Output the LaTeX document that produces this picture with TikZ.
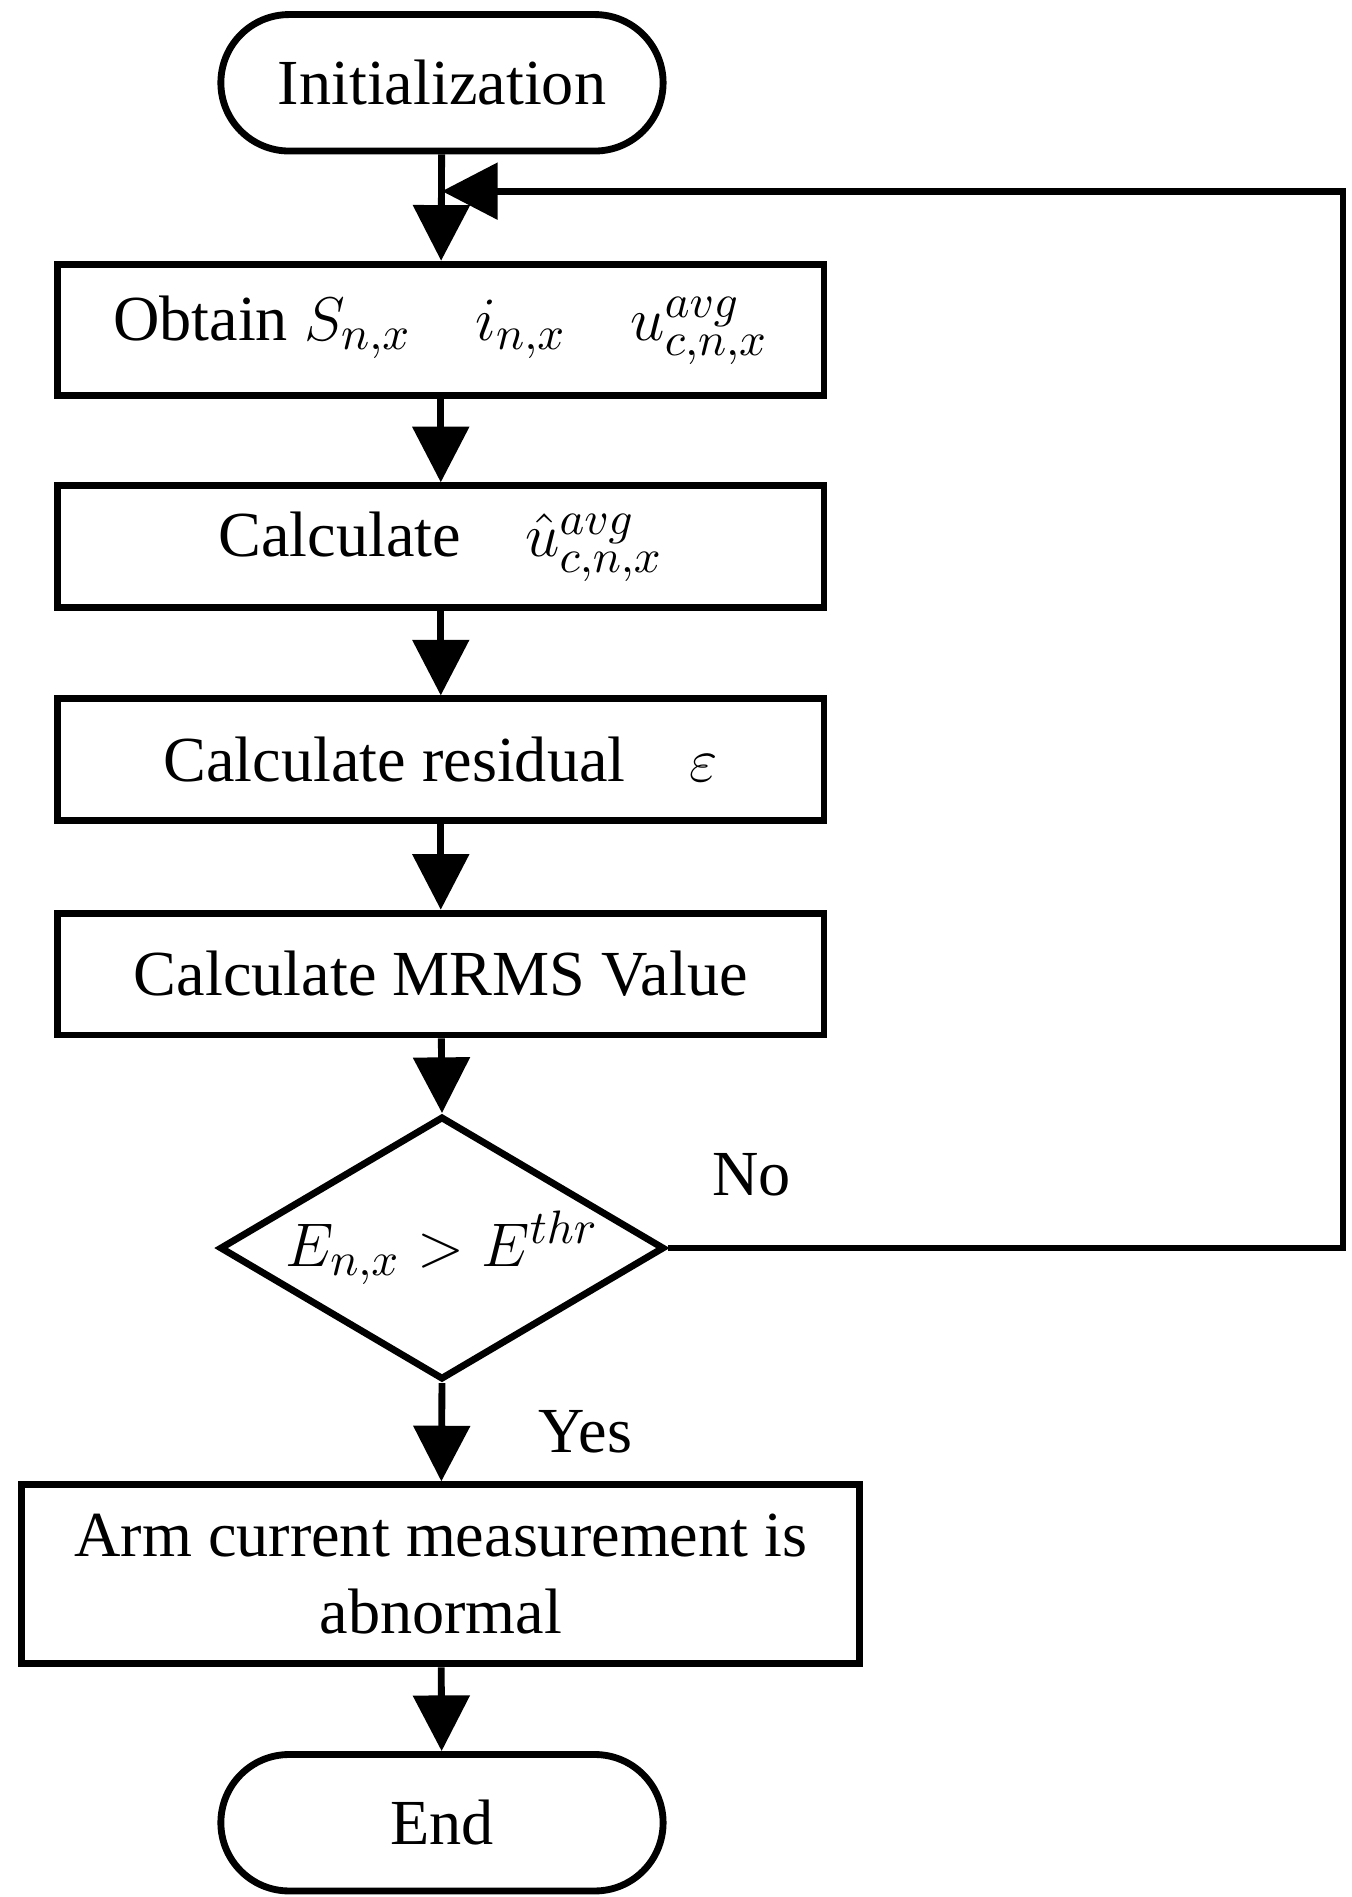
\documentclass[tikz,border=0pt]{standalone}
\usepackage{fontspec}
\setmainfont{Liberation Serif}
\usetikzlibrary{shapes.geometric,arrows.meta}
\begin{document}
\begin{tikzpicture}[x=0.01cm,y=-0.01cm]
          \tikzstyle{process}=[draw,line width=1.6pt,minimum width=6.29cm,minimum height=1cm,inner sep=0pt,font=\fontsize{15}{18}\selectfont]
          \tikzstyle{terminal}=[draw,line width=1.6pt,rounded corners=0.56cm,minimum width=3.63cm,minimum height=1.12cm,inner sep=0pt,font=\fontsize{15}{18}\selectfont]
          \tikzstyle{flow}=[line width=1.6pt,-{Triangle[length=13pt,width=13pt]}]
          \useasboundingbox (0,0) rectangle (1110,1558);

          \node (init) at (363,68) [terminal] {Initialization};
          \node (obtain) at (362,271) [process,minimum height=1.08cm] {Obtain $S_{n,x}\quad i_{n,x}\quad u^{avg}_{c,n,x}$};
          \node (uhat) at (362,449) [process] {Calculate\quad $\hat{u}^{avg}_{c,n,x}$};
          \node (resid) at (362,624) [process] {Calculate residual\quad $\varepsilon$};
          \node (mrms) at (362,800) [process] {Calculate MRMS Value};
          \node (check) at (363,1025) [draw,line width=1.6pt,diamond,aspect=1.7,minimum width=3.65cm,minimum height=2.16cm,inner sep=0pt,font=\fontsize{15}{18}\selectfont] {$E_{n,x}>E^{thr}$};
          \node (abnormal) at (362,1293) [process,minimum width=6.88cm,minimum height=1.47cm,align=center] {Arm current measurement is\\abnormal};
          \node (finish) at (363,1497) [terminal] {End};
          \coordinate (corner1) at (1103,1025);
          \coordinate (corner2) at (1103,157);
          \coordinate (merge) at (363,157);

          \draw[flow] (init) -- (obtain);
          \draw[flow] (obtain) -- (uhat);
          \draw[flow] (uhat) -- (resid);
          \draw[flow] (resid) -- (mrms);
          \draw[flow] (mrms) -- (check.north);
          \draw[flow] (check.south) -- node[right,xshift=0.65cm,font=\fontsize{15}{18}\selectfont] {Yes} (abnormal);
          \draw[flow] (abnormal) -- (finish);
          \draw[flow] (check.east) -- (corner1) -- (corner2) -- (merge);
          \node (no) at (617,965) [font=\fontsize{15}{18}\selectfont] {No};
        \end{tikzpicture}
\end{document}
